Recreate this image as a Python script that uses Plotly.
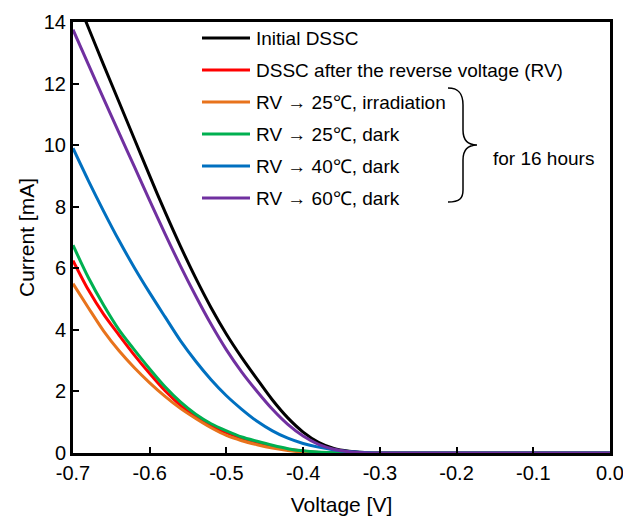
import plotly.graph_objects as go

voltage = [-0.70, -0.68, -0.66, -0.64, -0.62, -0.60, -0.58, -0.56, -0.54, -0.52,
           -0.50, -0.48, -0.46, -0.44, -0.42, -0.40, -0.38, -0.36, -0.34, -0.32,
           -0.30, -0.20, -0.10, 0.00]

initial_dssc = [15.05, 13.82, 12.6, 11.4, 10.2, 9.0, 7.83, 6.72, 5.68, 4.72,
                3.86, 3.1, 2.4, 1.72, 1.14, 0.68, 0.35, 0.15, 0.06, 0.02,
                0.0, 0.0, 0.0, 0.0]
after_rv = [6.25, 5.3, 4.5, 3.83, 3.18, 2.58, 2.02, 1.55, 1.17, 0.88,
            0.66, 0.48, 0.34, 0.22, 0.12, 0.06, 0.02, 0.01, 0.0, 0.0,
            0.0, 0.0, 0.0, 0.0]
rv_25_irr = [5.5, 4.72, 3.96, 3.32, 2.77, 2.28, 1.84, 1.45, 1.12, 0.82,
             0.57, 0.4, 0.27, 0.16, 0.08, 0.03, 0.01, 0.0, 0.0, 0.0,
             0.0, 0.0, 0.0, 0.0]
rv_25_dark = [6.75, 5.7, 4.8, 4.0, 3.35, 2.73, 2.15, 1.66, 1.26, 0.95,
              0.72, 0.52, 0.38, 0.25, 0.14, 0.07, 0.03, 0.01, 0.0, 0.0,
              0.0, 0.0, 0.0, 0.0]
rv_40_dark = [9.9, 8.85, 7.85, 6.9, 6.02, 5.2, 4.42, 3.65, 2.98, 2.38,
              1.86, 1.42, 1.03, 0.72, 0.48, 0.31, 0.19, 0.1, 0.05, 0.02,
              0.0, 0.0, 0.0, 0.0]
rv_60_dark = [13.75, 12.62, 11.5, 10.4, 9.3, 8.2, 7.12, 6.08, 5.1, 4.18,
              3.35, 2.63, 2.0, 1.42, 0.93, 0.55, 0.28, 0.12, 0.04, 0.01,
              0.0, 0.0, 0.0, 0.0]

series_names = ["Initial DSSC",
                "DSSC after the reverse voltage (RV)",
                "RV \u2192 25\u2103, irradiation",
                "RV \u2192 25\u2103, dark",
                "RV \u2192 40\u2103, dark",
                "RV \u2192 60\u2103, dark"]
series_values = [initial_dssc, after_rv, rv_25_irr, rv_25_dark, rv_40_dark, rv_60_dark]
series_colors = ["#000000", "#ff0000", "#e8731c", "#00b050", "#0070c0", "#7030a0"]

x_ticks = [-0.7, -0.6, -0.5, -0.4, -0.3, -0.2, -0.1, 0.0]
x_tick_labels = ["-0.7", "-0.6", "-0.5", "-0.4", "-0.3", "-0.2", "-0.1", "0.0"]
y_ticks = [0, 2, 4, 6, 8, 10, 12, 14]

FONT = "Liberation Sans, Arial, Helvetica, sans-serif"
W, H = 623, 518
PL, PT, PW, PH = 73, 22, 537, 431  # plot area in pixels
ML, MT = PL, PT
MR = W - ML - PW
MB = H - MT - PH


def px(x):
    return (x - PL) / PW


def py(y):
    return (PT + PH - y) / PH


fig = go.Figure()
for name, vals, col in zip(series_names, series_values, series_colors):
    fig.add_trace(go.Scatter(x=voltage, y=vals, mode="lines", name=name,
                             line=dict(color=col, width=3, shape="spline", smoothing=0.8),
                             showlegend=False, hoverinfo="skip"))

shapes = []
annotations = []
row_y = [38, 70, 102, 134, 166, 198]
for name, col, ry in zip(series_names, series_colors, row_y):
    shapes.append(dict(type="line", xref="paper", yref="paper",
                       x0=px(202), x1=px(250), y0=py(ry), y1=py(ry),
                       line=dict(color=col, width=3)))
    annotations.append(dict(text=name, xref="paper", yref="paper",
                            x=px(254), y=py(ry), xanchor="left", yanchor="middle",
                            showarrow=False, font=dict(family=FONT, size=19, color="black")))

# curly brace
pts = [(448, 88), (460, 88), (463, 95), (463, 105), (463, 130), (463, 140), (467, 145), (477, 145),
       (467, 145), (463, 150), (463, 160), (463, 190), (463, 198), (460, 202), (448, 202)]
P = [(px(a), py(b)) for a, b in pts]
path = ("M {0[0]},{0[1]} C {1[0]},{1[1]} {2[0]},{2[1]} {3[0]},{3[1]} L {4[0]},{4[1]} "
        "C {5[0]},{5[1]} {6[0]},{6[1]} {7[0]},{7[1]} C {8[0]},{8[1]} {9[0]},{9[1]} {10[0]},{10[1]} "
        "L {11[0]},{11[1]} C {12[0]},{12[1]} {13[0]},{13[1]} {14[0]},{14[1]}").format(*P)
shapes.append(dict(type="path", xref="paper", yref="paper", path=path,
                   line=dict(color="black", width=1.5)))
annotations.append(dict(text="for 16 hours", xref="paper", yref="paper",
                        x=px(491), y=py(158), xanchor="left", yanchor="middle",
                        showarrow=False, font=dict(family=FONT, size=19, color="black")))

fig.update_layout(
    width=W, height=H,
    margin=dict(l=ML, r=MR, t=MT, b=MB, autoexpand=False),
    paper_bgcolor="white", plot_bgcolor="white",
    font=dict(family=FONT, size=20, color="black"),
    shapes=shapes, annotations=annotations,
    showlegend=False,
)
fig.update_xaxes(range=[-0.7, 0.0], tickvals=x_ticks, ticktext=x_tick_labels,
                 ticks="inside", ticklen=6, tickwidth=1.5, tickcolor="black",
                 showline=True, linewidth=3, linecolor="black", mirror=True,
                 showgrid=False, zeroline=False, automargin=False,
                 ticklabeloverflow="allow",
                 title=dict(text="Voltage [V]", font=dict(size=21), standoff=15),
                 tickfont=dict(size=20))
fig.update_yaxes(range=[0, 14], tickvals=y_ticks,
                 ticks="inside", ticklen=6, tickwidth=1.5, tickcolor="black",
                 showline=True, linewidth=3, linecolor="black", mirror=True,
                 showgrid=False, zeroline=False, automargin=False,
                 ticklabeloverflow="allow",
                 title=dict(text="Current [mA]", font=dict(size=21), standoff=4),
                 tickfont=dict(size=20))

fig.write_html("out.html", config={"displayModeBar": False},
               post_script="document.body.style.margin='0';document.body.style.overflow='hidden';")
